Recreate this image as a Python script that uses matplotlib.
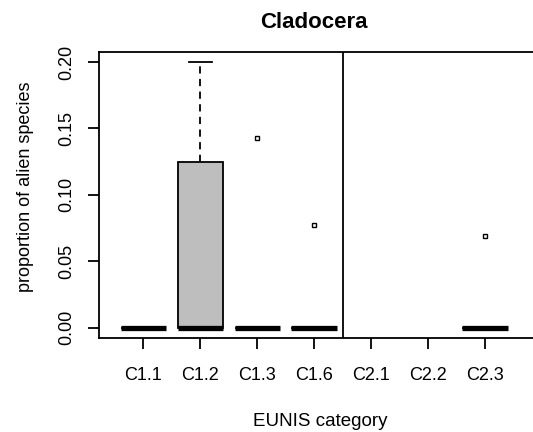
import numpy as np
import matplotlib
matplotlib.use("Agg")
import matplotlib.pyplot as plt

plt.rcParams['font.family'] = ['Liberation Sans', 'DejaVu Sans']

# Box statistics per EUNIS category (None = no data)
categories = ['C1.1', 'C1.2', 'C1.3', 'C1.6', 'C2.1', 'C2.2', 'C2.3']
q1 = [0.0, 0.0, 0.0, 0.0, None, None, 0.0]
med = [0.0, 0.0, 0.0, 0.0, None, None, 0.0]
q3 = [0.0, 0.125, 0.0, 0.0, None, None, 0.0]
whis_lo = [0.0, 0.0, 0.0, 0.0, None, None, 0.0]
whis_hi = [0.0, 0.2, 0.0, 0.0, None, None, 0.0]
outliers = [[], [], [0.143], [0.077], [], [], [0.069]]

W, H = 533, 432
fig = plt.figure(figsize=(W / 100, H / 100), dpi=100)
ax = fig.add_axes([99 / W, (H - 338) / H, 1 - 99 / W, (338 - 52) / H])

stats, pos = [], []
for i, c in enumerate(categories):
    if med[i] is None:
        continue
    stats.append(dict(label=c, q1=q1[i], med=med[i], q3=q3[i],
                      whislo=whis_lo[i], whishi=whis_hi[i],
                      fliers=np.array(outliers[i])))
    pos.append(i + 1)

ax.bxp(stats, positions=pos, widths=0.8, patch_artist=True, showcaps=True,
       boxprops=dict(facecolor='#bebebe', edgecolor='black', linewidth=1.3),
       medianprops=dict(color='black', linewidth=3.8, solid_capstyle='butt'),
       whiskerprops=dict(color='black', linewidth=1.3, linestyle=(0, (4, 3))),
       capprops=dict(color='black', linewidth=1.3),
       flierprops=dict(marker='s', markersize=3.2, markerfacecolor='white',
                       markeredgecolor='black', markeredgewidth=1.0),
       capwidths=0.4)

ax.axvline(4.5, color='black', linewidth=1.3)

ax.set_xlim(0.22, 7 + (W - 485) / 57)
ax.set_ylim(-0.0078, 0.2075)
ax.set_xticks(range(1, len(categories) + 1))
ax.set_xticklabels(categories)
ax.set_yticks([0, 0.05, 0.10, 0.15, 0.20])
ax.set_yticklabels(['0.00', '0.05', '0.10', '0.15', '0.20'], rotation=90, va='center')
ax.tick_params(axis='both', direction='out', length=8, width=1.3, labelsize=13)
ax.tick_params(axis='x', pad=13)
ax.tick_params(axis='y', pad=9)

ax.spines['right'].set_visible(False)
for s in ['left', 'bottom', 'top']:
    ax.spines[s].set_linewidth(1.3)

fig.text(314 / W, 1 - 23 / H, 'Cladocera', ha='center', va='center',
         fontsize=16, fontweight='bold')
fig.text(320 / W, 1 - 422 / H, 'EUNIS category', ha='center', va='center', fontsize=13.5)
fig.text(26 / W, 1 - 187 / H, 'proportion of alien species', ha='center', va='center',
         rotation=90, fontsize=13)

fig.savefig('out.png', dpi=100)
